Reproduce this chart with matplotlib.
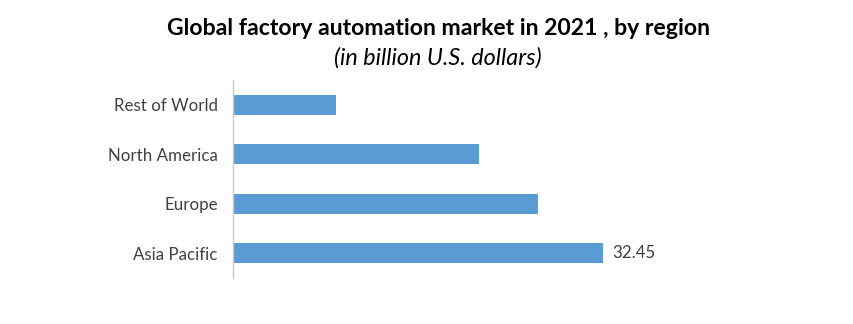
import matplotlib.pyplot as plt

regions = ['Asia Pacific', 'Europe', 'North America', 'Rest of World']
values = [32.45, 26.7, 21.55, 9.0]

plt.rcParams['font.family'] = ['Lato', 'DejaVu Sans']

fig = plt.figure(figsize=(8.54, 3.24), dpi=100)
ax = fig.add_axes([0.2728, 0.142, 0.577, 0.611])

bars = ax.barh(range(len(regions)), values, height=0.41, color='#5b9bd5')
ax.set_yticks(range(len(regions)))
ax.set_yticklabels(regions, fontsize=12.2, color='#404040')
ax.set_ylim(-0.5, 3.5)
ax.set_xlim(0, 43.2)
ax.set_xticks([])
ax.tick_params(axis='y', length=0, pad=11)
for s in ['top', 'right', 'bottom']:
    ax.spines[s].set_visible(False)
ax.spines['left'].set_color('#c8c8c8')
ax.spines['left'].set_linewidth(1)

ax.text(values[0] + 0.8, 0, '32.45', va='center', ha='left', fontsize=12.2, color='#404040')

fig.text(0.513, 0.913, 'Global factory automation market in 2021 , by region',
         ha='center', va='center', fontsize=16.6, fontweight='bold', color='black')
fig.text(0.513, 0.823, '(in billion U.S. dollars)', ha='center', va='center',
         fontsize=16.8, fontstyle='italic', color='black')

fig.savefig('out.png', dpi=100)
